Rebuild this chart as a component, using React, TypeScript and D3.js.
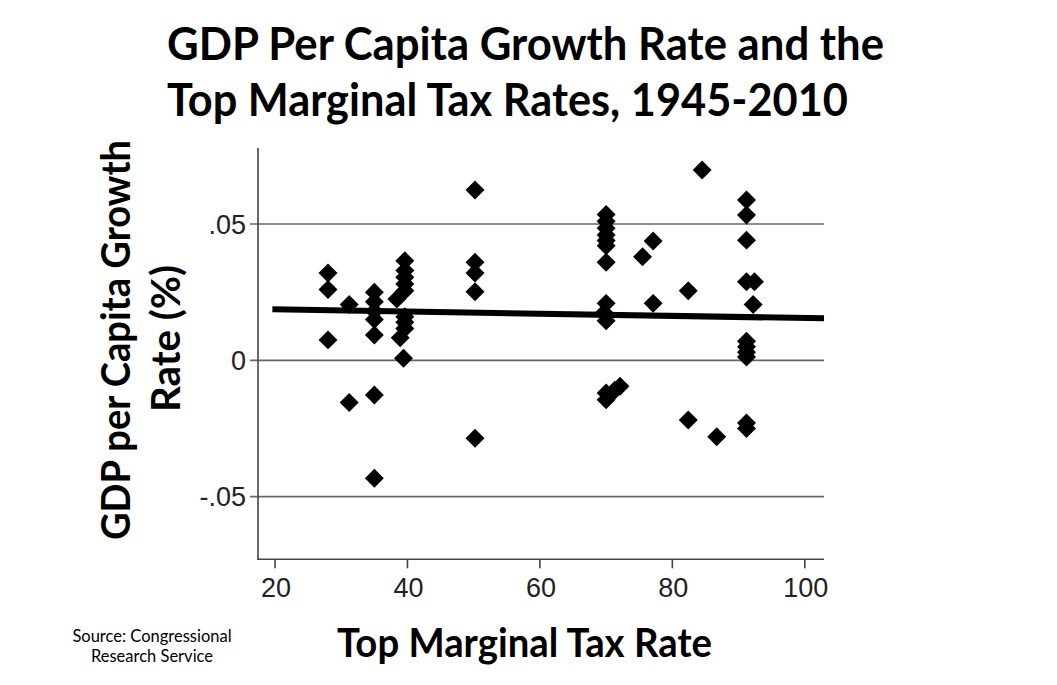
import React from "react";
import * as d3 from "d3";

// Top marginal tax rate (%) for each year
const taxRate: number[] = [
  28, 28, 28,
  31.2, 31.2,
  35, 35, 35, 35, 35, 35, 35,
  38.4, 38.9, 39.4,
  39.6, 39.6, 39.6, 39.6, 39.6, 39.6, 39.6, 39.6,
  50.2, 50.2, 50.2, 50.2, 50.2,
  70, 70, 70, 70, 70, 70, 70,
  70, 69.7, 70,
  70, 70, 71.3, 72.1,
  75.5, 77.1, 77.1,
  82.4, 82.4, 84.5, 86.7,
  91.2, 91.2, 91.2, 91.2, 91.2, 91.2, 91.2, 91.2, 91.2, 91.2,
  92.4, 92.2,
];

// GDP per capita growth rate for the same years
const growth: number[] = [
  0.032, 0.026, 0.0075,
  0.0205, -0.0155,
  0.025, 0.0215, 0.018, 0.015, 0.0093, -0.0127, -0.0433,
  0.0225, 0.0083, 0.0008,
  0.0365, 0.033, 0.0305, 0.028, 0.0255, 0.016, 0.014, 0.0117,
  0.0625, 0.036, 0.032, 0.0252, -0.0286,
  0.0535, 0.051, 0.0485, 0.046, 0.044, 0.042, 0.036,
  0.0209, 0.0175, 0.0145,
  -0.0145, -0.012, -0.011, -0.0095,
  0.038, 0.0438, 0.0209,
  0.0255, -0.0219, 0.0698, -0.028,
  0.0588, 0.0533, 0.0441, 0.0288, 0.007, 0.005, 0.003, 0.0012, -0.023, -0.025,
  0.0288, 0.0205,
];

// Fitted line endpoints (x, y)
const fitX: number[] = [19.6, 102.9];
const fitY: number[] = [0.0187, 0.0154];

const xTicks: number[] = [20, 40, 60, 80, 100];
const yTicks: number[] = [0.05, 0, -0.05];
const yTickLabels: string[] = [".05", "0", "-.05"];

const titleLines: string[] = [
  "GDP Per Capita Growth Rate and the",
  "Top Marginal Tax Rates, 1945-2010",
];
const yLabelLines: string[] = ["GDP per Capita Growth", "Rate (%)"];
const xLabel = "Top Marginal Tax Rate";
const sourceLines: string[] = ["Source: Congressional", "Research Service"];

export default function App() {
  const W = 1057;
  const H = 685;
  const left = 258;
  const right = 824;
  const top = 148;
  const bottom = 559.3;

  const x = d3.scaleLinear().domain([17.43, 102.9]).range([left, right]);
  const y = d3.scaleLinear().domain([-0.073, 0.0779]).range([bottom, top]);

  const diamond = d3.symbol(d3.symbolSquare, 180)() as string;
  const line = d3
    .line<number>()
    .x((_, i) => x(fitX[i]))
    .y((d) => y(d));

  const boldFont = "Lato, 'Open Sans', sans-serif";
  const tickFont = "'Liberation Sans', Arial, sans-serif";

  return (
    <svg
      width={W}
      height={H}
      style={{ position: "absolute", left: 0, top: 0, background: "#fff" }}
    >
      <rect x={0} y={0} width={W} height={H} fill="#fff" />
      {/* Title */}
      {titleLines.map((t, i) => (
        <text
          key={t}
          x={167}
          y={i === 0 ? 60 : 116}
          fontFamily={boldFont}
          fontWeight={700}
          fontSize={45}
          textLength={i === 0 ? 717 : 681}
          lengthAdjust="spacingAndGlyphs"
          fill="#000"
        >
          {t}
        </text>
      ))}

      {/* Gridlines */}
      {yTicks.map((v) => (
        <line
          key={v}
          x1={left - 8}
          x2={right}
          y1={y(v)}
          y2={y(v)}
          stroke="#666"
          strokeWidth={1.6}
        />
      ))}
      {/* Axes */}
      <line x1={left} x2={left} y1={top} y2={bottom} stroke="#444" strokeWidth={1.6} />
      <line x1={left - 1} x2={right} y1={bottom} y2={bottom} stroke="#444" strokeWidth={1.6} />
      {xTicks.map((v) => (
        <line
          key={v}
          x1={x(v)}
          x2={x(v)}
          y1={bottom}
          y2={bottom + 9}
          stroke="#444"
          strokeWidth={1.6}
        />
      ))}

      {/* Tick labels */}
      {yTicks.map((v, i) => (
        <text
          key={v}
          x={246}
          y={y(v) + 9.5}
          textAnchor="end"
          fontFamily={tickFont}
          fontSize={27}
          fill="#222"
        >
          {yTickLabels[i]}
        </text>
      ))}
      {xTicks.map((v) => (
        <text
          key={v}
          x={x(v) + 1}
          y={597}
          textAnchor="middle"
          fontFamily={tickFont}
          fontSize={27}
          fill="#222"
        >
          {v}
        </text>
      ))}

      {/* Points */}
      {taxRate.map((t, i) => (
        <path
          key={i}
          d={diamond}
          transform={`translate(${x(t)},${y(growth[i])}) rotate(45)`}
          fill="#000"
        />
      ))}

      {/* Fit line */}
      <path d={line(fitY) as string} stroke="#000" strokeWidth={6} fill="none" />

      {/* Y label */}
      <text
        transform={`translate(130,540) rotate(-90)`}
        fontFamily={boldFont}
        fontWeight={700}
        fontSize={40}
        textLength={400}
        lengthAdjust="spacingAndGlyphs"
        fill="#000"
      >
        {yLabelLines[0]}
      </text>
      <text
        transform={`translate(180,412) rotate(-90)`}
        fontFamily={boldFont}
        fontWeight={700}
        fontSize={40}
        textLength={147}
        lengthAdjust="spacingAndGlyphs"
        fill="#000"
      >
        {yLabelLines[1]}
      </text>

      {/* X label */}
      <text
        x={337}
        y={657}
        fontFamily={boldFont}
        fontWeight={700}
        fontSize={40}
        textLength={375}
        lengthAdjust="spacingAndGlyphs"
        fill="#000"
      >
        {xLabel}
      </text>

      {/* Source */}
      {sourceLines.map((s, i) => (
        <text
          key={s}
          x={152}
          y={642 + i * 20}
          textAnchor="middle"
          fontFamily={boldFont}
          fontSize={16.5}
          fill="#000"
        >
          {s}
        </text>
      ))}
    </svg>
  );
}
